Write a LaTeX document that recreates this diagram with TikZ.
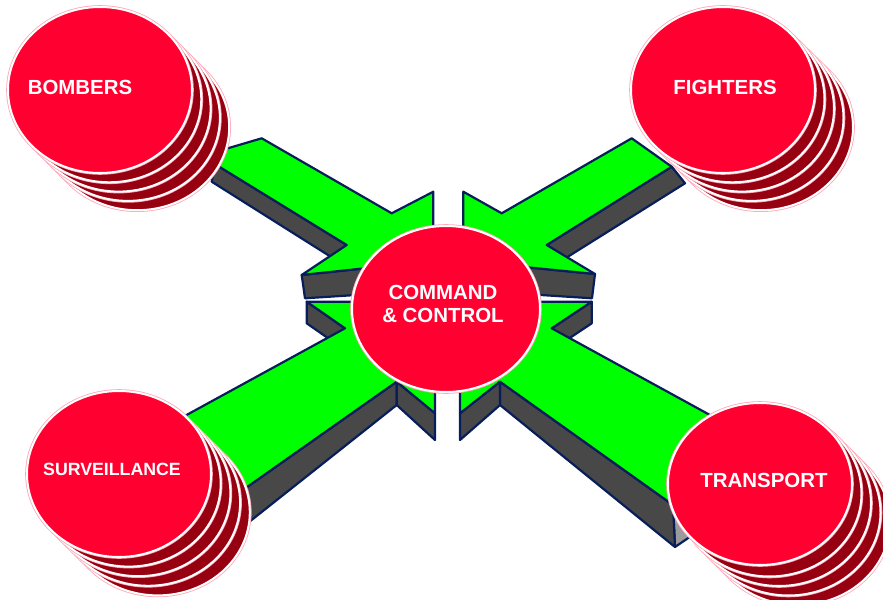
\documentclass[tikz,border=0pt]{standalone}
\usepackage{fontspec}
\setmainfont{Liberation Sans}
\usetikzlibrary{shapes.geometric}

\definecolor{discred}{RGB}{255,0,48}
\definecolor{discdark}{RGB}{150,0,16}
\definecolor{arrowgreen}{RGB}{0,255,0}
\definecolor{sidegrey}{RGB}{72,72,72}
\definecolor{endgrey}{RGB}{155,155,155}
\definecolor{edgenavy}{RGB}{8,30,90}

\tikzset{
    topface/.style={fill=arrowgreen, draw=edgenavy, line width=2.2bp, line join=round},
    sideface/.style={fill=sidegrey, draw=edgenavy, line width=2.2bp, line join=round},
    capface/.style={fill=endgrey, draw=edgenavy, line width=2.2bp, line join=round},
    disc/.style={ellipse, minimum width=184bp, minimum height=166bp, inner sep=0pt,
        draw=white, line width=2bp, preaction={draw=discred!35, line width=3.6bp}},
    frontdisc/.style={disc, fill=discred},
    backdisc/.style={disc, fill=discdark},
    disclabel/.style={text=white, inner sep=0pt, font=\bfseries\fontsize{20.5}{23.5}\selectfont},
}

\begin{document}
\begin{tikzpicture}[x=1bp, y=-1bp]
    \useasboundingbox (0,0) rectangle (883,600);

    % upper left arrow
    \draw[sideface] (215,164.1) -- (346.7,245) -- (346.7,266.8) -- (211.7,181.7) -- cycle;
    \draw[sideface] (301.7,275) -- (433.3,261) -- (433.3,290) -- (305,298.3) -- cycle;
    \draw[topface] (261.7,138.3) -- (391.7,213.3) -- (433.3,191.7) -- (433.3,261)
        -- (301.7,275) -- (346.7,245) -- (215,164.1) -- (222,150) -- cycle;

    % upper right arrow
    \draw[sideface] (546.7,245) -- (671.7,166.7) -- (685,183.3) -- (546.7,270) -- cycle;
    \draw[sideface] (595,274) -- (463.3,261) -- (463.3,290) -- (592,298.3) -- cycle;
    \draw[topface] (631.7,138.3) -- (671.7,166.7) -- (546.7,245) -- (595,274)
        -- (463.3,261) -- (463.3,191.7) -- (501.7,213.3) -- cycle;

    % lower left arrow
    \draw[sideface] (396.7,381.7) -- (396.7,405) -- (215,549) -- (215,509.6) -- cycle;
    \draw[sideface] (396.7,381.7) -- (435,413.3) -- (435,440) -- (396.7,405) -- cycle;
    \draw[sideface] (306.7,301.7) -- (345,328.3) -- (345,350) -- (306.7,323.3) -- cycle;
    \draw[topface] (435,302) -- (306.7,301.7) -- (345,328.3) -- (150,435) -- (215,509.6)
        -- (396.7,381.7) -- (435,413.3) -- cycle;

    % lower right arrow
    \draw[capface] (673,505) -- (700,490) -- (700,530) -- (675,547) -- cycle;
    \draw[sideface] (500,381.7) -- (673,505) -- (675,547) -- (500,405) -- cycle;
    \draw[sideface] (500,381.7) -- (460,413.3) -- (460,440) -- (500,405) -- cycle;
    \draw[sideface] (591.7,301.7) -- (551.7,328.3) -- (551.7,350) -- (591.7,323.3) -- cycle;
    \draw[topface] (460,302) -- (591.7,301.7) -- (551.7,328.3) -- (730,426) -- (700,505)
        -- (673,505) -- (500,381.7) -- (460,413.3) -- cycle;

    % centre
    \node[frontdisc, minimum width=188bp] (command) at (446,309) {};
    \node[disclabel, align=center] (command-text) at (443,304) {COMMAND\\\& CONTROL};

    % stacks of discs
    \foreach \k in {4,3,2,1}
        \node[backdisc] (bombers-\k) at ({100+9.3*\k},{90+9.3*\k}) {};
    \node[frontdisc] (bombers) at (100,90) {};
    \node[disclabel] (bombers-text) at (80,87.5) {BOMBERS};

    \foreach \k in {4,3,2,1}
        \node[backdisc] (fighters-\k) at ({723+9.5*\k},{90+9.3*\k}) {};
    \node[frontdisc] (fighters) at (723,90) {};
    \node[disclabel] (fighters-text) at (725,87.5) {FIGHTERS};

    \foreach \k in {4,3,2,1}
        \node[backdisc] (surveillance-\k) at ({119+9.7*\k},{474+9.6*\k}) {};
    \node[frontdisc] (surveillance) at (119,474) {};
    \node[disclabel, font=\bfseries\fontsize{17.8}{21}\selectfont] (surveillance-text) at (112,469.7) {SURVEILLANCE};

    \foreach \k in {4,3,2,1}
        \node[backdisc] (transport-\k) at ({760+9.5*\k},{484+9.5*\k}) {};
    \node[frontdisc, minimum height=162bp] (transport) at (760,484) {};
    \node[disclabel] (transport-text) at (764,480) {TRANSPORT};
\end{tikzpicture}
\end{document}
